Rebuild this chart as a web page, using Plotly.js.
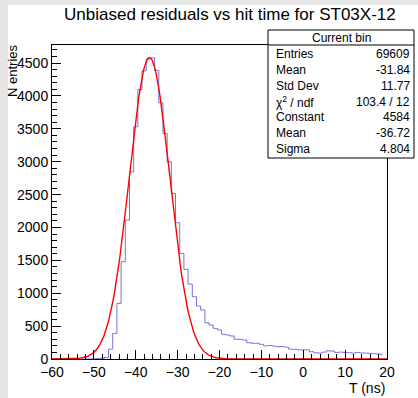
<!DOCTYPE html>
<html>
<head>
<meta charset="utf-8">
<script src="https://cdn.plot.ly/plotly-3.0.1.min.js"></script>
<style>
html,body{margin:0;padding:0;background:#fff;}
#chart{width:418px;height:398px;}
</style>
</head>
<body>
<div id="chart"></div>
<script>
// Histogram bin centres (ns) and bin contents
const binCentres = [-60,-59,-58,-57,-56,-55,-54,-53,-52,-51,-50,-49,-48,-47,-46,-45,-44,-43,-42,-41,
  -40,-39,-38,-37,-36,-35,-34,-33,-32,-31,-30,-29,-28,-27,-26,-25,-24,-23,-22,-21,
  -20,-19,-18,-17,-16,-15,-14,-13,-12,-11,-10,-9,-8,-7,-6,-5,-4,-3,-2,-1,
  0,1,2,3,4,5,6,7,8,9,10,11,12,13,14,15,16,17,18,19];
const binCounts = [0,0,0,0,0,0,0,0,0,1,3,6,12,25,150,390,846,1480,2112,2846,
  3530,4098,4381,4560,4580,4390,3895,3430,2999,2518,2072,1606,1363,1140,947,805,745,552,517,466,
  441,375,365,350,299,300,289,248,240,238,223,200,205,198,187,190,180,150,147,140,
  137,140,111,95,90,105,125,120,100,105,100,96,90,100,92,90,86,82,75,65];

// Fit parameters shown in the stats box
const fitConstant = 4584;
const fitMean = -36.72;
const fitSigma = 4.804;

// Stats box text
const statsLabels = ["Entries","Mean","Std Dev","χ<sup>2</sup> / ndf","Constant","Mean","Sigma"];
const statsValues = ["69609","-31.84","11.77","103.4 / 12","4584","-36.72","4.804"];

// Gaussian fit function evaluated from the displayed fit parameters
const fitX = [], fitY = [];
for (let i = 0; i <= 400; i++) {
  const x = -60 + i * 0.2;
  fitX.push(x);
  fitY.push(fitConstant * Math.exp(-0.5 * Math.pow((x - fitMean) / fitSigma, 2)));
}

const L = 52, R = 387, T = 45, B = 359;
const W = R - L, H = B - T;
const px = v => (v - L) / W;
const py = v => (B - v) / H;

const traces = [
  {x: binCentres, y: binCounts, type: 'scatter', mode: 'lines',
   line: {shape: 'hvh', color: 'rgb(115,115,215)', width: 1}, hoverinfo: 'skip'},
  {x: fitX, y: fitY, type: 'scatter', mode: 'lines',
   line: {color: '#ff0000', width: 1.4}, hoverinfo: 'skip'}
];

const font = 'Liberation Sans, Arial, sans-serif';
const shapes = [
  // grey page margin left and top
  {type: 'rect', xref: 'paper', yref: 'paper', x0: px(0), x1: px(8), y0: py(398), y1: py(0),
   line: {width: 0}, fillcolor: '#e6e6e6', layer: 'below'},
  {type: 'rect', xref: 'paper', yref: 'paper', x0: px(0), x1: px(418), y0: py(5), y1: py(0),
   line: {width: 0}, fillcolor: '#e6e6e6', layer: 'below'},
  {type: 'rect', xref: 'paper', yref: 'paper', x0: px(268), x1: px(414), y0: py(158), y1: py(30),
   line: {color: '#000', width: 1}, fillcolor: '#fff', layer: 'above'},
  {type: 'line', xref: 'paper', yref: 'paper', x0: px(268), x1: px(414), y0: py(45), y1: py(45),
   line: {color: '#000', width: 1}, layer: 'above'}
];
const annotations = [
  {xref: 'paper', yref: 'paper', x: px(341), y: py(37.5), text: 'Current bin', showarrow: false,
   font: {family: font, size: 12, color: '#000'}, xanchor: 'center', yanchor: 'middle'}
];
const rowY = [53.5, 69.5, 85.5, 101.5, 117, 133, 149];
statsLabels.forEach((lab, i) => {
  annotations.push({xref: 'paper', yref: 'paper', x: px(274), y: py(rowY[i]), text: lab, showarrow: false,
    font: {family: font, size: 12, color: '#000'}, xanchor: 'left', yanchor: 'middle'});
  annotations.push({xref: 'paper', yref: 'paper', x: px(412), y: py(rowY[i]), text: statsValues[i], showarrow: false,
    font: {family: font, size: 12, color: '#000'}, xanchor: 'right', yanchor: 'middle'});
});
// axis titles (ROOT style: at the end of each axis)
annotations.push({xref: 'paper', yref: 'paper', x: px(387), y: py(388), text: 'T (ns)',
  showarrow: false, font: {family: font, size: 14, color: '#000'}, xanchor: 'right', yanchor: 'middle'});
annotations.push({xref: 'paper', yref: 'paper', x: px(12.5), y: py(42), text: 'N entries', textangle: -90,
  showarrow: false, font: {family: font, size: 13, color: '#000'}, xanchor: 'center', yanchor: 'top'});

const layout = {
  width: 418, height: 398,
  margin: {l: L, r: 418 - R, t: T, b: 398 - B, pad: 0},
  paper_bgcolor: '#fff', plot_bgcolor: '#fff',
  showlegend: false,
  title: {text: 'Unbiased residuals vs hit time for ST03X-12', x: 0.55, xanchor: 'center',
          y: 1 - 14 / 398, yanchor: 'middle', yref: 'container',
          font: {family: font, size: 17, color: '#000'}},
  xaxis: {range: [-60, 20], showgrid: false, zeroline: false, showline: true, mirror: true,
          linecolor: '#000', linewidth: 1, ticks: 'inside', ticklen: 9, tickcolor: '#000',
          dtick: 10, tick0: 0, tickfont: {family: font, size: 14, color: '#000'},
          minor: {ticks: 'inside', ticklen: 5, dtick: 2, tickcolor: '#000', showgrid: false}},
  yaxis: {range: [0, 4775], showgrid: false, zeroline: false, showline: true, mirror: true,
          linecolor: '#000', linewidth: 1, ticks: 'inside', ticklen: 9, tickcolor: '#000',
          dtick: 500, tick0: 0, tickfont: {family: font, size: 14, color: '#000'},
          minor: {ticks: 'inside', ticklen: 5, dtick: 100, tickcolor: '#000', showgrid: false}},
  shapes: shapes,
  annotations: annotations
};

Plotly.newPlot('chart', traces, layout, {displayModeBar: false, staticPlot: true});
</script>
</body>
</html>
